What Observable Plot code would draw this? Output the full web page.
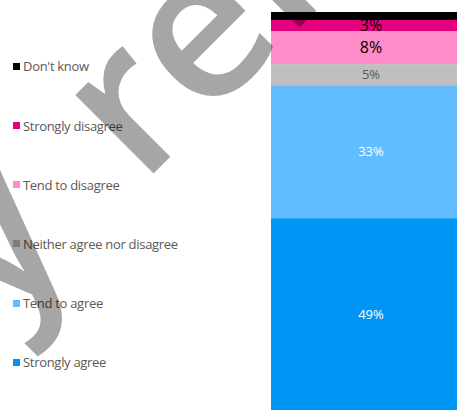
<!DOCTYPE html>
<html>
<head>
<meta charset="utf-8">
<script src="https://cdn.jsdelivr.net/npm/d3@7"></script>
<script src="https://cdn.jsdelivr.net/npm/@observablehq/plot@0.6"></script>
<style>
  html, body { margin: 0; padding: 0; background: #fff; overflow: hidden; }
  #wrap { position: relative; width: 457px; height: 410px; overflow: hidden; }
  #chart { position: absolute; left: 0; top: 0; width: 470px; }
  #chart svg { max-width: none !important; }
  .leg { position: absolute; left: 13px; display: flex; align-items: center; font-family: "Open Sans", sans-serif; font-size: 13px; letter-spacing: -0.3px; color: #595959; white-space: nowrap; }
  .leg .sw { width: 7px; height: 7px; margin-right: 3px; }
  #wm { position: absolute; left: 0; top: 0; pointer-events: none; }
</style>
</head>
<body>
<div id="wrap">
  <div id="chart"></div>
  <div id="legend"></div>
  <svg id="wm" width="457" height="410"></svg>
</div>
<script>
// Data (bottom to top of the stacked bar)
const categories = ["Strongly agree", "Tend to agree", "Neither agree nor disagree", "Tend to disagree", "Strongly disagree", "Don't know"];
const values = [48.2, 33.4, 5.3, 8.3, 2.8, 2.0];
const labels = ["49%", "33%", "5%", "8%", "3%", ""];
const colors = ["#0095f5", "#61bdff", "#bfbfbf", "#ff8cc8", "#e6007e", "#000000"];
const watermark = "Early release";

const data = categories.map((c, i) => ({group: "all", category: c, value: values[i], label: labels[i], i}));

const labelMark = (pick, fill, size) =>
  Plot.text(data, Plot.stackY({
    x: "group", y: "value",
    text: d => pick(d.i) ? d.label : "",
    fill, fontSize: size, fontFamily: "Open Sans"
  }));

const chart = Plot.plot({
  width: 470,
  height: 410,
  marginTop: 12,
  marginBottom: 0,
  marginLeft: 271,
  marginRight: 0,
  style: {maxWidth: "none"},
  x: {axis: null, padding: 0},
  y: {axis: null, domain: [0, 100]},
  color: {domain: categories, range: colors},
  marks: [
    Plot.barY(data, {x: "group", y: "value", fill: "category"}),
    labelMark(i => i <= 1, "white", 13),
    labelMark(i => i === 2, "#595959", 13),
    labelMark(i => i === 3 || i === 4, "#000", 16),
    Plot.barY(data, {x: "group", y: "value", fill: "category", fillOpacity: d => d.category === "Don't know" ? 1 : 0})
  ]
});
document.getElementById("chart").appendChild(chart);

// Legend (top to bottom)
const legendY = [66, 125.5, 184.5, 243.5, 303, 362];
const legend = document.getElementById("legend");
categories.slice().reverse().forEach((c, k) => {
  const idx = categories.length - 1 - k;
  const row = document.createElement("div");
  row.className = "leg";
  row.style.top = (legendY[k] - 10) + "px";
  row.style.height = "20px";
  const sw = document.createElement("span");
  sw.className = "sw";
  sw.style.background = colors[idx];
  const t = document.createElement("span");
  t.textContent = c;
  row.appendChild(sw);
  row.appendChild(t);
  legend.appendChild(row);
});

// Watermark
d3.select("#wm").append("text")
  .attr("transform", "translate(-267,594) rotate(-45)")
  .attr("font-family", "Open Sans")
  .attr("font-weight", 600)
  .attr("word-spacing", 36)
  .attr("font-size", 205)
  .attr("fill", "#000")
  .attr("fill-opacity", 0.35)
  .text(watermark);
</script>
</body>
</html>
